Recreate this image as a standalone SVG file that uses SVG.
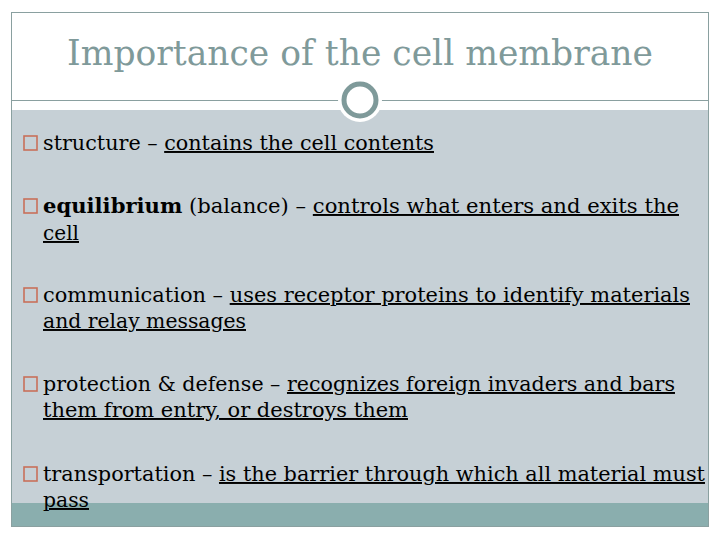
<svg xmlns="http://www.w3.org/2000/svg" width="720" height="540" viewBox="0 0 720 540">
<style>
.t{font-family:"DejaVu Serif","Liberation Serif",serif;font-size:19.5px;fill:#000}
.u{text-decoration:underline}
.b{fill:none;stroke:#c8705a;stroke-width:1.6}
</style>
<rect width="720" height="540" fill="#fff"/>
<rect x="11.5" y="12.5" width="697" height="514" fill="#fff" stroke="#8aa0a0"/>
<rect x="12" y="110" width="696" height="393" fill="#c6d0d6"/>
<rect x="12" y="503" width="696" height="23" fill="#8aaeae"/>
<line x1="12" y1="100.5" x2="708" y2="100.5" stroke="#8aa0a0" stroke-width="1"/>
<circle cx="360" cy="100" r="22" fill="#fff"/>
<circle cx="360" cy="100" r="16" fill="#fff" stroke="#7f9a9a" stroke-width="5"/>
<text x="67" y="65" textLength="586" lengthAdjust="spacingAndGlyphs" font-family="DejaVu Serif,Liberation Serif,serif" font-size="36" fill="#7f9a9a">Importance of the cell membrane</text>
<g id="b1"><rect class="b" x="24" y="136" width="13" height="14"/><text class="t" x="43" y="150" textLength="391" lengthAdjust="spacingAndGlyphs">structure – <tspan class="u">contains the cell contents</tspan></text></g>
<g id="b2"><rect class="b" x="24" y="199" width="13" height="14"/><text class="t" x="43" y="213" textLength="636" lengthAdjust="spacingAndGlyphs"><tspan font-weight="bold">equilibrium</tspan> (balance) – <tspan class="u">controls what enters and exits the</tspan></text><text class="t u" x="43" y="240" textLength="36" lengthAdjust="spacingAndGlyphs">cell</text></g>
<g id="b3"><rect class="b" x="24" y="288" width="13" height="14"/><text class="t" x="43" y="302" textLength="647" lengthAdjust="spacingAndGlyphs">communication – <tspan class="u">uses receptor proteins to identify materials</tspan></text><text class="t u" x="43" y="328" textLength="203" lengthAdjust="spacingAndGlyphs">and relay messages</text></g>
<g id="b4"><rect class="b" x="24" y="377" width="13" height="14"/><text class="t" x="43" y="391" textLength="632" lengthAdjust="spacingAndGlyphs">protection &amp; defense – <tspan class="u">recognizes foreign invaders and bars</tspan></text><text class="t u" x="43" y="417" textLength="365" lengthAdjust="spacingAndGlyphs">them from entry, or destroys them</text></g>
<g id="b5"><rect class="b" x="24" y="467" width="13" height="14"/><text class="t" x="43" y="481" textLength="662" lengthAdjust="spacingAndGlyphs">transportation – <tspan class="u">is the barrier through which all material must</tspan></text><text class="t u" x="43" y="507" textLength="46" lengthAdjust="spacingAndGlyphs">pass</text></g>
</svg>
